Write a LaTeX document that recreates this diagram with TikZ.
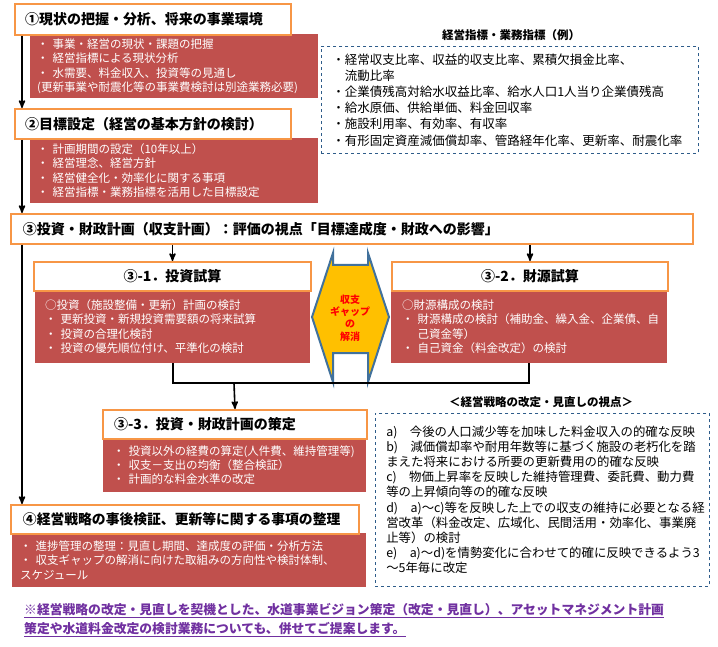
\documentclass[tikz,border=0pt]{standalone}
\usepackage{fontspec}
\setmainfont{Noto Sans CJK JP}
\usetikzlibrary{arrows,positioning,calc}
\definecolor{boxorange}{HTML}{F79646}
\definecolor{boxred}{HTML}{C0504D}
\definecolor{dashblue}{HTML}{2E5C8A}
\definecolor{gapyellow}{HTML}{FFC000}
\definecolor{gapedge}{HTML}{41719C}
\definecolor{notepurple}{HTML}{7030A0}
\tikzset{
    titlebox/.style={
        draw=boxorange,
        line width=2pt,
        fill=white,
        font=\bfseries\fontsize{14}{17}\selectfont,
        anchor=north west,
        align=left,
        inner xsep=10pt,
        inner ysep=0pt
    },
    redbox/.style={
        fill=boxred,
        text=white,
        font=\fontsize{11.5}{14.3}\selectfont,
        anchor=north west,
        align=left,
        inner ysep=0pt
    },
    notebox/.style={
        draw=dashblue,
        dashed,
        semithick,
        font=\fontsize{12.5}{16.2}\selectfont,
        anchor=north west,
        align=left,
        inner xsep=11pt,
        inner ysep=0pt
    },
    notetitle/.style={
        font=\bfseries\fontsize{11.5}{14}\selectfont
    },
    flow/.style={
        line width=1.6pt,
        black
    }
}

\begin{document}
\begin{tikzpicture}[x=1pt, y=-1pt, >=stealth']
    \useasboundingbox (0,0) rectangle (718,647);

    % Etapa 1
    \node[redbox, text width=274pt, minimum height=64pt, inner xsep=7pt] (r1) at (30,34)
        {・ 事業・経営の現状・課題の把握\\
         ・ 経営指標による現状分析\\
         ・ 水需要、料金収入、投資等の見通し\\
         (更新事業や耐震化等の事業費検討は別途業務必要)};
    \node[titlebox, text width=256pt, minimum height=31pt] (t1) at (14,3)
        {①現状の把握・分析、将来の事業環境};

    % Etapa 2
    \node[redbox, text width=274pt, minimum height=65pt, inner xsep=7pt] (r2) at (30,138)
        {・ 計画期間の設定（10年以上）\\
         ・ 経営理念、経営方針\\
         ・ 経営健全化・効率化に関する事項\\
         ・ 経営指標・業務指標を活用した目標設定};
    \node[titlebox, text width=256pt, minimum height=30pt] (t2) at (14,108)
        {②目標設定（経営の基本方針の検討）};

    % Indicadores
    \node[notetitle] (k1) at (511,35) {経営指標・業務指標（例）};
    \node[notebox, text width=355pt, minimum height=107pt] (n1) at (321,46)
        {・経常収支比率、収益的収支比率、累積欠損金比率、\\
         　流動比率\\
         ・企業債残高対給水収益比率、給水人口1人当り企業債残高\\
         ・給水原価、供給単価、料金回収率\\
         ・施設利用率、有効率、有収率\\
         ・有形固定資産減価償却率、管路経年化率、更新率、耐震化率};

    % Etapa 3
    \node[titlebox, text width=658pt, minimum height=30pt, inner xsep=12pt] (t3) at (10,213)
        {③投資・財政計画（収支計画）：評価の視点「目標達成度・財政への影響」};

    \node[redbox, text width=255pt, minimum height=73pt, inner xsep=10pt] (r31) at (35,290)
        {○投資（施設整備・更新）計画の検討\\
         ・ 更新投資・新規投資需要額の将来試算\\
         ・ 投資の合理化検討\\
         ・ 投資の優先順位付け、平準化の検討};
    \node[titlebox, text width=257pt, minimum height=29pt, align=center] (t31) at (33,261)
        {③-1．投資試算};

    \node[redbox, text width=254pt, minimum height=73pt, inner xsep=11pt] (r32) at (391,290)
        {○財源構成の検討\\
         ・ 財源構成の検討（補助金、繰入金、企業債、自\\
         \hphantom{・ }己資金等）\\
         ・ 自己資金（料金改定）の検討};
    \node[titlebox, text width=256pt, minimum height=29pt, align=center] (t32) at (391,261)
        {③-2．財源試算};

    % Seta dupla
    \draw[gapedge, line width=2pt, fill=gapyellow, line join=miter]
        (312,317) -- (333,253) -- (333,265) -- (368,265) -- (368,253) -- (389,317)
        -- (368,382) -- (368,353) -- (333,353) -- (333,382) -- cycle;
    \node[text=red, align=center, font=\bfseries\fontsize{10}{12.3}\selectfont] (gap) at (350,318)
        {収支\\ギャップ\\の\\解消};

    \node[redbox, text width=243pt, minimum height=54pt, inner xsep=10pt] (r33) at (103,438)
        {・ 投資以外の経費の算定(人件費、維持管理等)\\
         ・ 収支－支出の均衡（整合検証）\\
         ・ 計画的な料金水準の改定};
    \node[titlebox, text width=242pt, minimum height=29pt, inner xsep=11pt] (t33) at (102,409)
        {③-3．投資・財政計画の策定};

    % Pontos de revisao
    \node[notetitle] (k2) at (541,402) {＜経営戦略の改定・見直しの視点＞};
    \node[notebox, text width=312pt, minimum height=173pt, font=\fontsize{12.4}{15.1}\selectfont] (n2) at (375,413)
        {a)　今後の人口減少等を加味した料金収入の的確な反映\\
         b)　減価償却率や耐用年数等に基づく施設の老朽化を踏\\
         まえた将来における所要の更新費用の的確な反映\\
         c)　物価上昇率を反映した維持管理費、委託費、動力費\\
         等の上昇傾向等の的確な反映\\
         d)　a)～c)等を反映した上での収支の維持に必要となる経\\
         営改革（料金改定、広域化、民間活用・効率化、事業廃\\
         止等）の検討\\
         e)　a)～d)を情勢変化に合わせて的確に反映できるよう3\\
         ～5年毎に改定};

    % Etapa 4
    \node[redbox, text width=338pt, minimum height=54pt, inner xsep=8pt] (r4) at (12,533)
        {・ 進捗管理の整理：見直し期間、達成度の評価・分析方法\\
         ・ 収支ギャップの解消に向けた取組みの方向性や検討体制、\\
         スケジュール};
    \node[titlebox, text width=324pt, minimum height=29pt, inner xsep=12pt,
          font=\bfseries\fontsize{13.8}{17}\selectfont] (t4) at (10,504)
        {④経営戦略の事後検証、更新等に関する事項の整理};

    % Nota final
    \node[anchor=north west, align=left, text=notepurple, inner sep=0pt,
          font=\bfseries\fontsize{12.8}{19}\selectfont] (note) at (24,603)
        {\underline{※経営戦略の改定・見直しを契機とした、水道事業ビジョン策定（改定・見直し）、アセットマネジメント計画}\\
         \underline{策定や水道料金改定の検討業務についても、併せてご提案します。}};

    % Setas
    \coordinate (spine) at (22,0);
    \coordinate (join) at (234,383);
    \draw[flow, ->] (spine |- t1.south) -- (spine |- t2.north);
    \draw[flow, ->] (spine |- t2.south) -- (spine |- t3.north);
    \draw[flow, ->] (spine |- t3.south) -- (spine |- t4.north);
    \draw[flow, ->] (t31.north |- t3.south) -- (t31.north);
    \draw[flow, ->] (t32.north |- t3.south) -- (t32.north);
    \draw[flow] (r31.south) |- (join) -| (r32.south);
    \draw[flow, ->] (join) -- (t33.north);

\end{tikzpicture}
\end{document}
